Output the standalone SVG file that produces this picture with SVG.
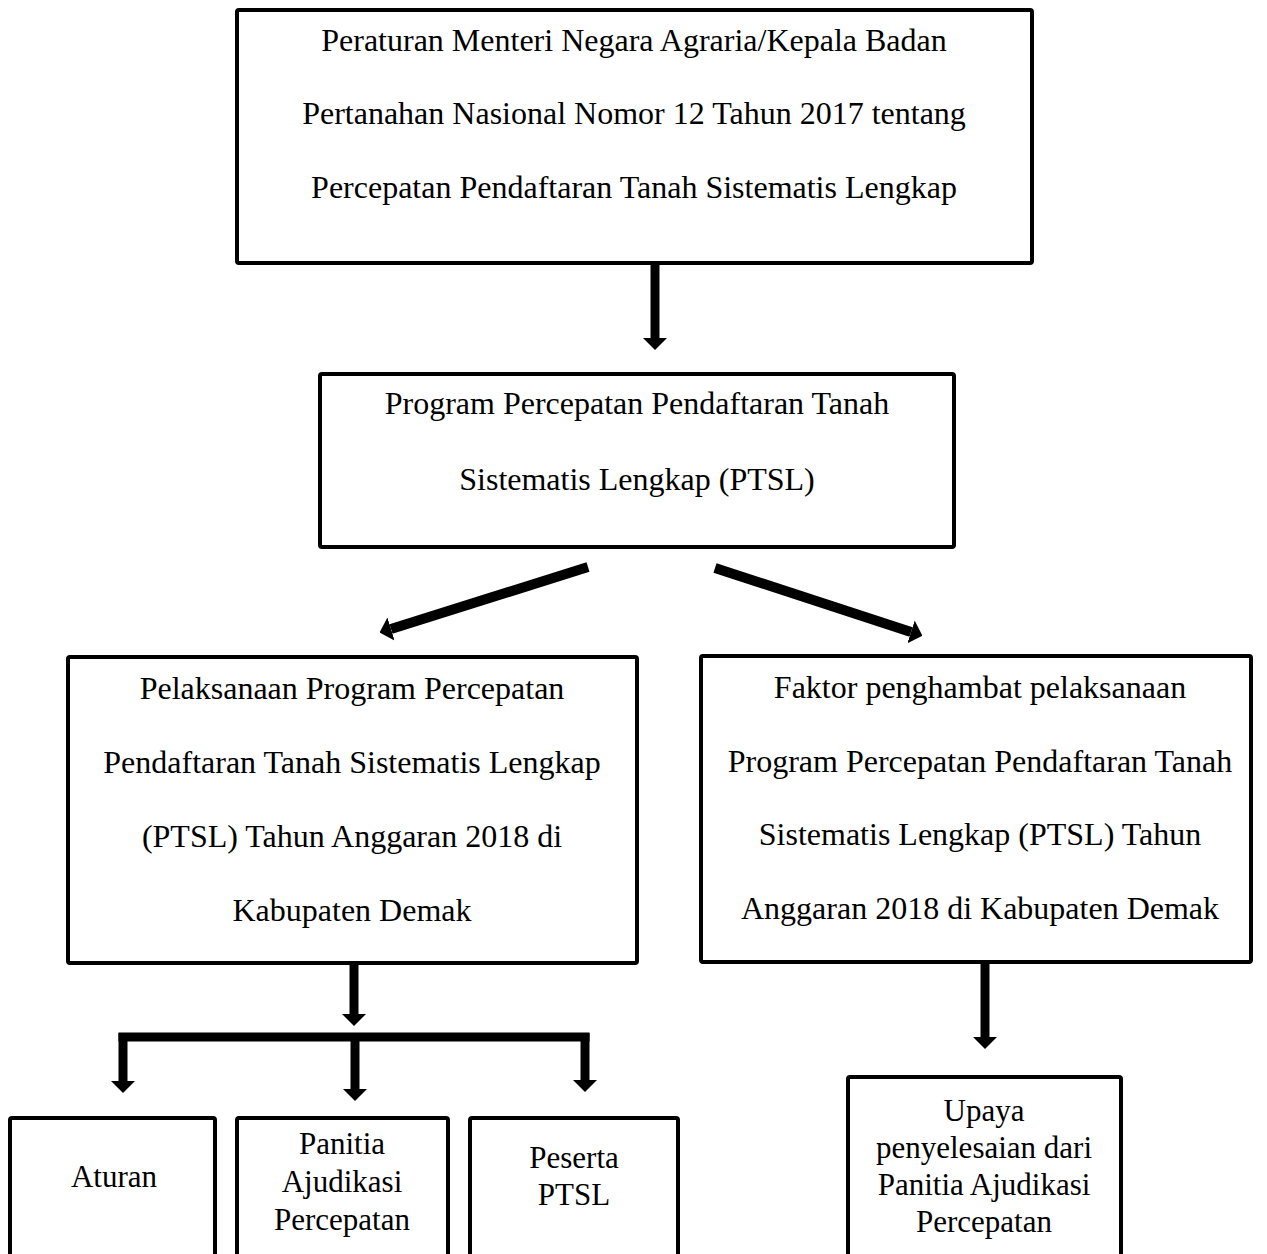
<svg xmlns="http://www.w3.org/2000/svg" width="1267" height="1254" viewBox="0 0 1267 1254">
<style>
.box{fill:#fff;stroke:#000;stroke-width:4}
.t{font-family:"Liberation Serif","Times New Roman",serif;font-size:32px;fill:#000;text-anchor:middle}
.s{font-size:31px}
.c{fill:none;stroke:#000;stroke-width:9}
.d{fill:none;stroke:#000;stroke-width:10}
</style>
<defs>
<marker id="ah" viewBox="0 0 12 24" refX="0" refY="12" markerWidth="12" markerHeight="24" markerUnits="userSpaceOnUse" orient="auto">
<path d="M0,0 L12,12 L0,24 z" fill="#000"/>
</marker>
</defs>
<rect width="1267" height="1254" fill="#fff"/>
<g id="connectors">
<line class="c" x1="655" y1="265" x2="655" y2="338" marker-end="url(#ah)"/>
<line class="d" x1="588" y1="567" x2="391" y2="629" marker-end="url(#ah)"/>
<line class="d" x1="715" y1="568" x2="911" y2="632" marker-end="url(#ah)"/>
<line class="c" x1="354" y1="963" x2="354" y2="1014" marker-end="url(#ah)"/>
<line class="c" x1="118.5" y1="1037" x2="589.5" y2="1037"/>
<line class="c" x1="123" y1="1033" x2="123" y2="1081" marker-end="url(#ah)"/>
<line class="c" x1="355" y1="1037" x2="355" y2="1089" marker-end="url(#ah)"/>
<line class="c" x1="585" y1="1033" x2="585" y2="1080" marker-end="url(#ah)"/>
<line class="c" x1="985" y1="963" x2="985" y2="1037" marker-end="url(#ah)"/>
</g>
<g id="n1">
<rect class="box" x="237" y="10" width="795" height="253" rx="2"/>
<text class="t" x="634" y="51">Peraturan Menteri Negara Agraria/Kepala Badan</text>
<text class="t" x="634" y="124">Pertanahan Nasional Nomor 12 Tahun 2017 tentang</text>
<text class="t" x="634" y="198">Percepatan Pendaftaran Tanah Sistematis Lengkap</text>
</g>
<g id="n2">
<rect class="box" x="320" y="374" width="634" height="173" rx="2"/>
<text class="t" x="637" y="414">Program Percepatan Pendaftaran Tanah</text>
<text class="t" x="637" y="490">Sistematis Lengkap (PTSL)</text>
</g>
<g id="n3">
<rect class="box" x="68" y="657" width="569" height="306" rx="2"/>
<text class="t" x="352" y="699">Pelaksanaan Program Percepatan</text>
<text class="t" x="352" y="773">Pendaftaran Tanah Sistematis Lengkap</text>
<text class="t" x="352" y="847">(PTSL) Tahun Anggaran 2018 di</text>
<text class="t" x="352" y="921">Kabupaten Demak</text>
</g>
<g id="n4">
<rect class="box" x="701" y="656" width="550" height="306" rx="2"/>
<text class="t" x="980" y="698">Faktor penghambat pelaksanaan</text>
<text class="t" x="980" y="772">Program Percepatan Pendaftaran Tanah</text>
<text class="t" x="980" y="845">Sistematis Lengkap (PTSL) Tahun</text>
<text class="t" x="980" y="919">Anggaran 2018 di Kabupaten Demak</text>
</g>
<g id="n5">
<rect class="box" x="10" y="1118" width="205" height="150" rx="2"/>
<text class="t s" x="114" y="1187">Aturan</text>
</g>
<g id="n6">
<rect class="box" x="237" y="1118" width="211" height="150" rx="2"/>
<text class="t s" x="342" y="1154">Panitia</text>
<text class="t s" x="342" y="1192">Ajudikasi</text>
<text class="t s" x="342" y="1230">Percepatan</text>
</g>
<g id="n7">
<rect class="box" x="470" y="1118" width="208" height="150" rx="2"/>
<text class="t s" x="574" y="1168">Peserta</text>
<text class="t s" x="574" y="1205">PTSL</text>
</g>
<g id="n8">
<rect class="box" x="848" y="1077" width="273" height="190" rx="2"/>
<text class="t s" x="984" y="1121">Upaya</text>
<text class="t s" x="984" y="1158">penyelesaian dari</text>
<text class="t s" x="984" y="1195">Panitia Ajudikasi</text>
<text class="t s" x="984" y="1232">Percepatan</text>
</g>
</svg>
